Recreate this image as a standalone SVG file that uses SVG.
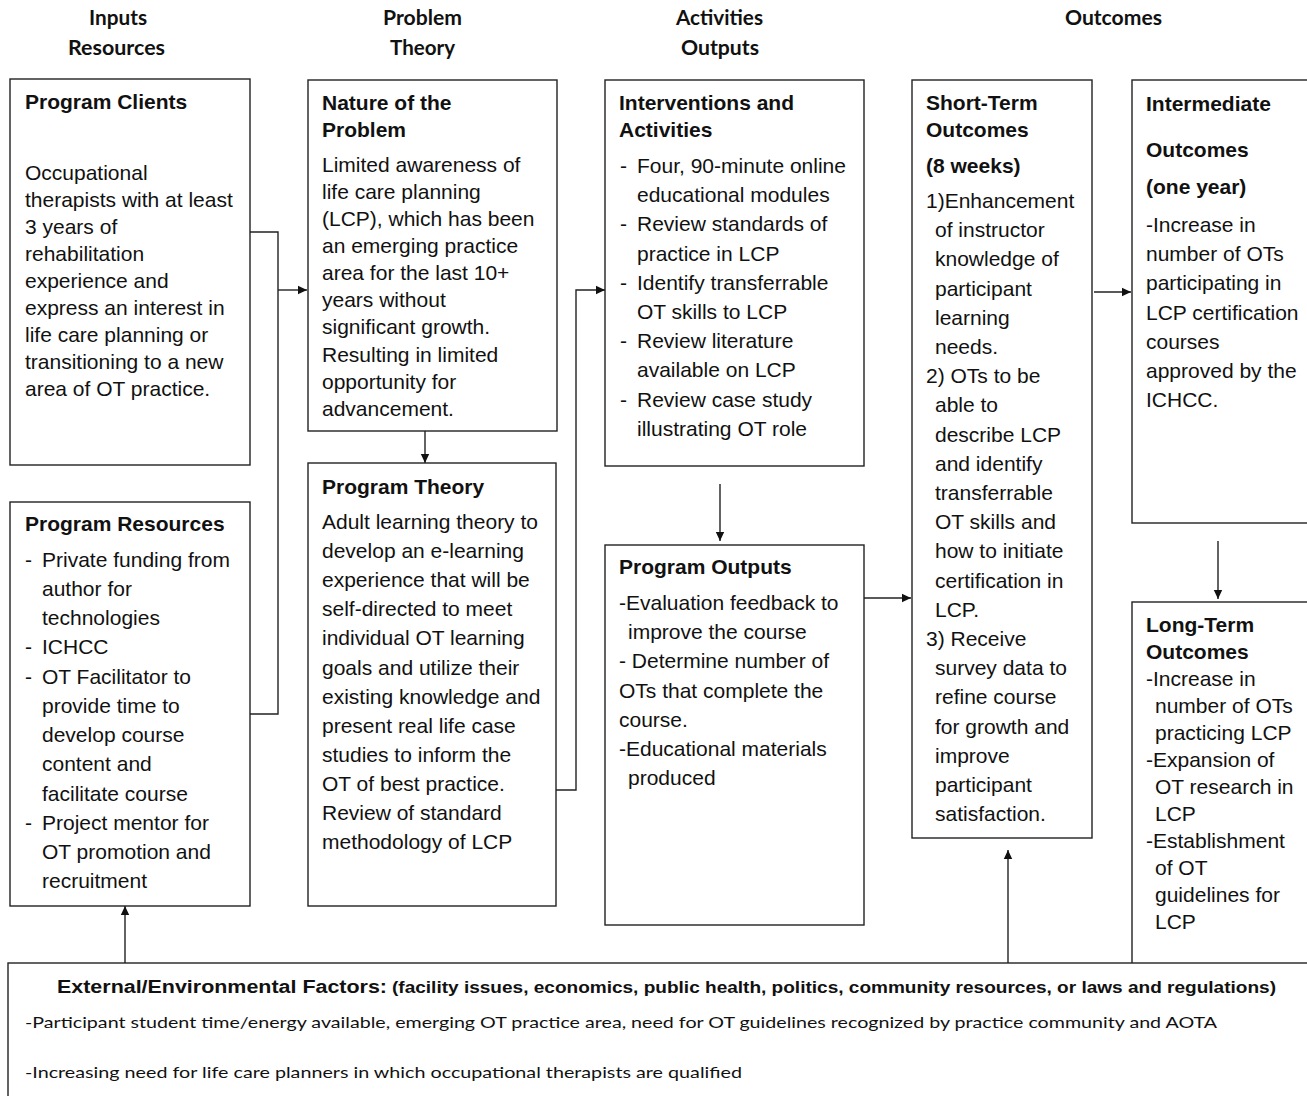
<svg xmlns="http://www.w3.org/2000/svg" width="1307" height="1096" viewBox="0 0 1307 1096">
<defs>
<style>
.box{fill:#fff;stroke:#222;stroke-width:1.4}
.t{font-family:"Liberation Sans",Arial,sans-serif;font-size:21px;fill:#111}
.b{font-weight:bold}
.h{font-family:Lato,"Liberation Sans",sans-serif;font-size:21px;font-weight:bold;fill:#111}
.c{font-family:Lato,"Liberation Sans",sans-serif;font-size:16px;fill:#111}
.ln{fill:none;stroke:#222;stroke-width:1.4}
</style>
<marker id="ar" markerUnits="userSpaceOnUse" markerWidth="10" markerHeight="10" refX="9" refY="5" orient="auto">
<path d="M0,0.8 L9,5 L0,9.2 Z" fill="#111"/>
</marker>
</defs>
<rect width="1307" height="1096" fill="#fff"/>

<g id="headers">
<text class="h" x="89" y="25" textLength="58" lengthAdjust="spacingAndGlyphs">Inputs</text>
<text class="h" x="68" y="55" textLength="97" lengthAdjust="spacingAndGlyphs">Resources</text>
<text class="h" x="383" y="25" textLength="79" lengthAdjust="spacingAndGlyphs">Problem</text>
<text class="h" x="390" y="55" textLength="65" lengthAdjust="spacingAndGlyphs">Theory</text>
<text class="h" x="676" y="25" textLength="87" lengthAdjust="spacingAndGlyphs">Activities</text>
<text class="h" x="681" y="55" textLength="78" lengthAdjust="spacingAndGlyphs">Outputs</text>
<text class="h" x="1065" y="25" textLength="97" lengthAdjust="spacingAndGlyphs">Outcomes</text>
</g>

<g id="connectors">
<path class="ln" d="M250,232 H278 V714 H250"/>
<path class="ln" d="M278,290 H307" marker-end="url(#ar)"/>
<path class="ln" d="M425,431 V463" marker-end="url(#ar)"/>
<path class="ln" d="M556,790 H576 V290 H605" marker-end="url(#ar)"/>
<path class="ln" d="M720,484 V541" marker-end="url(#ar)"/>
<path class="ln" d="M864,598 H911" marker-end="url(#ar)"/>
<path class="ln" d="M1094,292 H1131" marker-end="url(#ar)"/>
<path class="ln" d="M1218,541 V599" marker-end="url(#ar)"/>
<path class="ln" d="M125,963 V906" marker-end="url(#ar)"/>
<path class="ln" d="M1008,963 V850" marker-end="url(#ar)"/>
</g>

<g id="program-clients">
<rect class="box" x="10" y="79" width="240" height="386"/>
<text class="t b" x="25" y="109">Program Clients</text>
<text class="t" x="25" y="180">Occupational</text>
<text class="t" x="25" y="207">therapists with at least</text>
<text class="t" x="25" y="234">3 years of</text>
<text class="t" x="25" y="261">rehabilitation</text>
<text class="t" x="25" y="288">experience and</text>
<text class="t" x="25" y="315">express an interest in</text>
<text class="t" x="25" y="342">life care planning or</text>
<text class="t" x="25" y="369">transitioning to a new</text>
<text class="t" x="25" y="396">area of OT practice.</text>
</g>

<g id="program-resources">
<rect class="box" x="10" y="502" width="240" height="404"/>
<text class="t b" x="25" y="531">Program Resources</text>
<text class="t" x="25" y="567">-</text><text class="t" x="42" y="567">Private funding from</text>
<text class="t" x="42" y="596">author for</text>
<text class="t" x="42" y="625">technologies</text>
<text class="t" x="25" y="654">-</text><text class="t" x="42" y="654">ICHCC</text>
<text class="t" x="25" y="684">-</text><text class="t" x="42" y="684">OT Facilitator to</text>
<text class="t" x="42" y="713">provide time to</text>
<text class="t" x="42" y="742">develop course</text>
<text class="t" x="42" y="771">content and</text>
<text class="t" x="42" y="801">facilitate course</text>
<text class="t" x="25" y="830">-</text><text class="t" x="42" y="830">Project mentor for</text>
<text class="t" x="42" y="859">OT promotion and</text>
<text class="t" x="42" y="888">recruitment</text>
</g>

<g id="nature-of-problem">
<rect class="box" x="308" y="80" width="249" height="351"/>
<text class="t b" x="322" y="110">Nature of the</text>
<text class="t b" x="322" y="137">Problem</text>
<text class="t" x="322" y="172">Limited awareness of</text>
<text class="t" x="322" y="199">life care planning</text>
<text class="t" x="322" y="226">(LCP), which has been</text>
<text class="t" x="322" y="253">an emerging practice</text>
<text class="t" x="322" y="280">area for the last 10+</text>
<text class="t" x="322" y="307">years without</text>
<text class="t" x="322" y="334">significant growth.</text>
<text class="t" x="322" y="362">Resulting in limited</text>
<text class="t" x="322" y="389">opportunity for</text>
<text class="t" x="322" y="416">advancement.</text>
</g>

<g id="program-theory">
<rect class="box" x="308" y="463" width="248" height="443"/>
<text class="t b" x="322" y="494">Program Theory</text>
<text class="t" x="322" y="529">Adult learning theory to</text>
<text class="t" x="322" y="558">develop an e-learning</text>
<text class="t" x="322" y="587">experience that will be</text>
<text class="t" x="322" y="616">self-directed to meet</text>
<text class="t" x="322" y="645">individual OT learning</text>
<text class="t" x="322" y="675">goals and utilize their</text>
<text class="t" x="322" y="704">existing knowledge and</text>
<text class="t" x="322" y="733">present real life case</text>
<text class="t" x="322" y="762">studies to inform the</text>
<text class="t" x="322" y="791">OT of best practice.</text>
<text class="t" x="322" y="820">Review of standard</text>
<text class="t" x="322" y="849">methodology of LCP</text>
</g>

<g id="interventions">
<rect class="box" x="605" y="80" width="259" height="386"/>
<text class="t b" x="619" y="110">Interventions and</text>
<text class="t b" x="619" y="137">Activities</text>
<text class="t" x="620" y="173">-</text><text class="t" x="637" y="173">Four, 90-minute online</text>
<text class="t" x="637" y="202">educational modules</text>
<text class="t" x="620" y="231">-</text><text class="t" x="637" y="231">Review standards of</text>
<text class="t" x="637" y="261">practice in LCP</text>
<text class="t" x="620" y="290">-</text><text class="t" x="637" y="290">Identify transferrable</text>
<text class="t" x="637" y="319">OT skills to LCP</text>
<text class="t" x="620" y="348">-</text><text class="t" x="637" y="348">Review literature</text>
<text class="t" x="637" y="377">available on LCP</text>
<text class="t" x="620" y="407">-</text><text class="t" x="637" y="407">Review case study</text>
<text class="t" x="637" y="436">illustrating OT role</text>
</g>

<g id="program-outputs">
<rect class="box" x="605" y="545" width="259" height="380"/>
<text class="t b" x="619" y="574">Program Outputs</text>
<text class="t" x="619" y="610">-Evaluation feedback to</text>
<text class="t" x="628" y="639">improve the course</text>
<text class="t" x="619" y="668">- Determine number of</text>
<text class="t" x="619" y="698">OTs that complete the</text>
<text class="t" x="619" y="727">course.</text>
<text class="t" x="619" y="756">-Educational materials</text>
<text class="t" x="628" y="785">produced</text>
</g>

<g id="short-term">
<rect class="box" x="912" y="80" width="180" height="758"/>
<text class="t b" x="926" y="110">Short-Term</text>
<text class="t b" x="926" y="137">Outcomes</text>
<text class="t b" x="926" y="173">(8 weeks)</text>
<text class="t" x="926" y="208">1)Enhancement</text>
<text class="t" x="935" y="237">of instructor</text>
<text class="t" x="935" y="266">knowledge of</text>
<text class="t" x="935" y="296">participant</text>
<text class="t" x="935" y="325">learning</text>
<text class="t" x="935" y="354">needs.</text>
<text class="t" x="926" y="383">2) OTs to be</text>
<text class="t" x="935" y="412">able to</text>
<text class="t" x="935" y="442">describe LCP</text>
<text class="t" x="935" y="471">and identify</text>
<text class="t" x="935" y="500">transferrable</text>
<text class="t" x="935" y="529">OT skills and</text>
<text class="t" x="935" y="558">how to initiate</text>
<text class="t" x="935" y="588">certification in</text>
<text class="t" x="935" y="617">LCP.</text>
<text class="t" x="926" y="646">3) Receive</text>
<text class="t" x="935" y="675">survey data to</text>
<text class="t" x="935" y="704">refine course</text>
<text class="t" x="935" y="734">for growth and</text>
<text class="t" x="935" y="763">improve</text>
<text class="t" x="935" y="792">participant</text>
<text class="t" x="935" y="821">satisfaction.</text>
</g>

<g id="intermediate">
<rect class="box" x="1132" y="80" width="190" height="443"/>
<text class="t b" x="1146" y="111">Intermediate</text>
<text class="t b" x="1146" y="157">Outcomes</text>
<text class="t b" x="1146" y="194">(one year)</text>
<text class="t" x="1146" y="232">-Increase in</text>
<text class="t" x="1146" y="261">number of OTs</text>
<text class="t" x="1146" y="290">participating in</text>
<text class="t" x="1146" y="320">LCP certification</text>
<text class="t" x="1146" y="349">courses</text>
<text class="t" x="1146" y="378">approved by the</text>
<text class="t" x="1146" y="407">ICHCC.</text>
</g>

<g id="long-term">
<rect class="box" x="1132" y="602" width="190" height="380"/>
<text class="t b" x="1146" y="632">Long-Term</text>
<text class="t b" x="1146" y="659">Outcomes</text>
<text class="t" x="1146" y="686">-Increase in</text>
<text class="t" x="1155" y="713">number of OTs</text>
<text class="t" x="1155" y="740">practicing LCP</text>
<text class="t" x="1146" y="767">-Expansion of</text>
<text class="t" x="1155" y="794">OT research in</text>
<text class="t" x="1155" y="821">LCP</text>
<text class="t" x="1146" y="848">-Establishment</text>
<text class="t" x="1155" y="875">of OT</text>
<text class="t" x="1155" y="902">guidelines for</text>
<text class="t" x="1155" y="929">LCP</text>
</g>

<g id="external-factors">
<rect class="box" x="8" y="963" width="1320" height="150"/>
<text class="t b" x="57" y="993" style="font-size:18px" textLength="330" lengthAdjust="spacingAndGlyphs">External/Environmental Factors:</text>
<text class="t b" x="392" y="993" style="font-size:16.5px" textLength="884" lengthAdjust="spacingAndGlyphs">(facility issues, economics, public health, politics, community resources, or laws and regulations)</text>
<text class="c" x="25" y="1028" textLength="1192" lengthAdjust="spacingAndGlyphs">-Participant student time/energy available, emerging OT practice area, need for OT guidelines recognized by practice community and AOTA</text>
<text class="c" x="25" y="1078" textLength="717" lengthAdjust="spacingAndGlyphs">-Increasing need for life care planners in which occupational therapists are qualified</text>
</g>
</svg>
